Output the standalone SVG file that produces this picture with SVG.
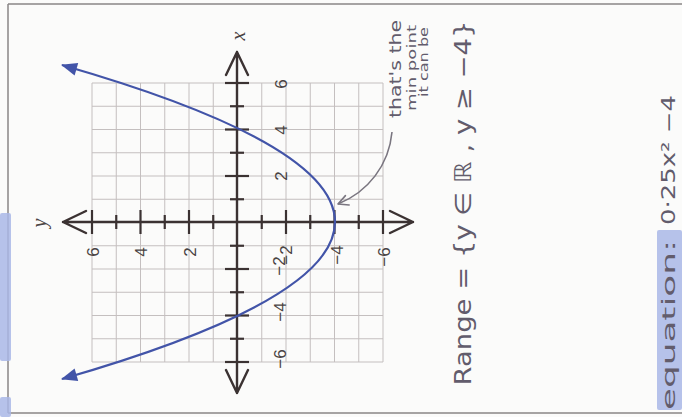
<svg xmlns="http://www.w3.org/2000/svg" width="682" height="417" viewBox="0 0 682 417">
<defs>
<style>
.grid line{stroke:#c4bfbf;stroke-width:1}
.axis{stroke:#3b3232;stroke-width:2.4;fill:none;stroke-linecap:round;stroke-linejoin:round}
.tick{stroke:#3b3232;stroke-width:2.2}
.lbl{font-family:"Liberation Sans","DejaVu Sans",sans-serif;font-size:17px;fill:#4a4444;text-anchor:middle;dominant-baseline:central}
.var{font-family:"Liberation Serif","DejaVu Serif",serif;font-style:italic;font-size:20px;fill:#4a4444;text-anchor:middle;dominant-baseline:central}
.hand{font-family:"DejaVu Sans","Liberation Sans",sans-serif;fill:#625c6c;text-anchor:middle;dominant-baseline:central}
.hl{fill:#a9b7e6;opacity:0.85}
.border{stroke:#8a8686;stroke-width:1.5;fill:none}
</style>
<marker id="fillArrow" viewBox="-16 -8 18 16" refX="0" refY="0" markerWidth="18" markerHeight="16" markerUnits="userSpaceOnUse" orient="auto-start-reverse">
<path d="M-15,-6.5 L1,0 L-15,6.5 Z" fill="#4254a8"/>
</marker>
<marker id="openArrow" viewBox="-12 -7 14 14" refX="0" refY="0" markerWidth="14" markerHeight="14" markerUnits="userSpaceOnUse" orient="auto">
<path d="M-10,-5 L0,0 L-10,5" fill="none" stroke="#7a7680" stroke-width="1.6" stroke-linecap="round" stroke-linejoin="round"/>
</marker>
</defs>
<rect width="682" height="417" fill="#fbfbfa"/>
<g id="page">
<path class="border" d="M8,4 L682,4 M8,4 L8,413 M8,413 L682,413"/>
<rect class="hl" x="0" y="213" width="11" height="148" rx="2"/>
<rect class="hl" x="0" y="397" width="11" height="20" rx="2"/>
</g>
<g id="grid" class="grid">
<line x1="92" y1="83" x2="92" y2="362"/><line x1="116.25" y1="83" x2="116.25" y2="362"/><line x1="140.5" y1="83" x2="140.5" y2="362"/><line x1="164.75" y1="83" x2="164.75" y2="362"/><line x1="189" y1="83" x2="189" y2="362"/><line x1="213.25" y1="83" x2="213.25" y2="362"/><line x1="261.75" y1="83" x2="261.75" y2="362"/><line x1="286" y1="83" x2="286" y2="362"/><line x1="310.25" y1="83" x2="310.25" y2="362"/><line x1="334.5" y1="83" x2="334.5" y2="362"/><line x1="358.75" y1="83" x2="358.75" y2="362"/><line x1="383" y1="83" x2="383" y2="362"/>
<line x1="92" y1="83" x2="383" y2="83"/><line x1="92" y1="106.25" x2="383" y2="106.25"/><line x1="92" y1="129.5" x2="383" y2="129.5"/><line x1="92" y1="152.75" x2="383" y2="152.75"/><line x1="92" y1="176" x2="383" y2="176"/><line x1="92" y1="199.25" x2="383" y2="199.25"/><line x1="92" y1="245.75" x2="383" y2="245.75"/><line x1="92" y1="269" x2="383" y2="269"/><line x1="92" y1="292.25" x2="383" y2="292.25"/><line x1="92" y1="315.5" x2="383" y2="315.5"/><line x1="92" y1="338.75" x2="383" y2="338.75"/><line x1="92" y1="362" x2="383" y2="362"/>
</g>
<g id="axes">
<path class="axis" d="M237,52 L237,393 M226,75 L237,52 L248,75 M226,370 L237,393 L248,370"/>
<path class="axis" d="M63,222 L413,222 M86,211 L63,222 L86,233 M390,211 L413,222 L390,233"/>
<g class="tick">
<line x1="225" y1="83" x2="249" y2="83"/><line x1="230" y1="106.25" x2="244" y2="106.25"/><line x1="225" y1="129.5" x2="249" y2="129.5"/><line x1="230" y1="152.75" x2="244" y2="152.75"/><line x1="225" y1="176" x2="249" y2="176"/><line x1="230" y1="199.25" x2="244" y2="199.25"/><line x1="230" y1="245.75" x2="244" y2="245.75"/><line x1="225" y1="269" x2="249" y2="269"/><line x1="230" y1="292.25" x2="244" y2="292.25"/><line x1="225" y1="315.5" x2="249" y2="315.5"/><line x1="230" y1="338.75" x2="244" y2="338.75"/><line x1="225" y1="362" x2="249" y2="362"/>
<line x1="92" y1="210" x2="92" y2="234"/><line x1="116.25" y1="215" x2="116.25" y2="229"/><line x1="140.5" y1="210" x2="140.5" y2="234"/><line x1="164.75" y1="215" x2="164.75" y2="229"/><line x1="189" y1="210" x2="189" y2="234"/><line x1="213.25" y1="215" x2="213.25" y2="229"/><line x1="261.75" y1="215" x2="261.75" y2="229"/><line x1="286" y1="210" x2="286" y2="234"/><line x1="310.25" y1="215" x2="310.25" y2="229"/><line x1="334.5" y1="210" x2="334.5" y2="234"/><line x1="358.75" y1="215" x2="358.75" y2="229"/><line x1="383" y1="210" x2="383" y2="234"/>
</g>
<text class="var" transform="translate(238,36) rotate(-90)">x</text>
<text class="var" transform="translate(39,223) rotate(-90)">y</text>
<text class="lbl" transform="translate(281,84) rotate(-90)">6</text>
<text class="lbl" transform="translate(281,130) rotate(-90)">4</text>
<text class="lbl" transform="translate(281,176) rotate(-90)">2</text>
<text class="lbl" transform="translate(279,266) rotate(-90)">−2</text>
<text class="lbl" transform="translate(280,312) rotate(-90)">−4</text>
<text class="lbl" transform="translate(280,359) rotate(-90)">−6</text>
<text class="lbl" transform="translate(93,252) rotate(-90)">6</text>
<text class="lbl" transform="translate(141,252) rotate(-90)">4</text>
<text class="lbl" transform="translate(190,252) rotate(-90)">2</text>
<text class="lbl" transform="translate(286,255) rotate(-90)">−2</text>
<text class="lbl" transform="translate(337,255) rotate(-90)">−4</text>
<text class="lbl" transform="translate(384,257) rotate(-90)">−6</text>
</g>
<g id="connectors">
<path id="parabola" d="M62,65 Q608,222 62,379" fill="none" stroke="#4254a8" stroke-width="2.2" marker-start="url(#fillArrow)" marker-end="url(#fillArrow)"/>
<path id="note-arrow" d="M392,132 C389,165 368,192 338,204" fill="none" stroke="#7a7680" stroke-width="1.6" marker-end="url(#openArrow)"/>
</g>
<g id="note">
<text class="hand" font-size="15" textLength="98" lengthAdjust="spacingAndGlyphs" transform="translate(396,69) rotate(-90)">that's the</text>
<text class="hand" font-size="13" textLength="86" lengthAdjust="spacingAndGlyphs" transform="translate(411,68) rotate(-90)">min point</text>
<text class="hand" font-size="12" textLength="70" lengthAdjust="spacingAndGlyphs" transform="translate(424,62) rotate(-90)">it can be</text>
</g>
<g id="range">
<text class="hand" font-size="23" textLength="365" lengthAdjust="spacingAndGlyphs" transform="translate(463,203) rotate(-90)">Range = {y ∈ ℝ , y ≥ −4}</text>
</g>
<g id="equation">
<rect class="hl" x="657" y="230" width="25" height="180" rx="2"/>
<text class="hand" font-size="18" textLength="170" lengthAdjust="spacingAndGlyphs" transform="translate(668,325) rotate(-90)">equation:</text>
<text class="hand" font-size="19" textLength="130" lengthAdjust="spacingAndGlyphs" transform="translate(668,160) rotate(-90)">0·25x² −4</text>
</g>
</svg>
